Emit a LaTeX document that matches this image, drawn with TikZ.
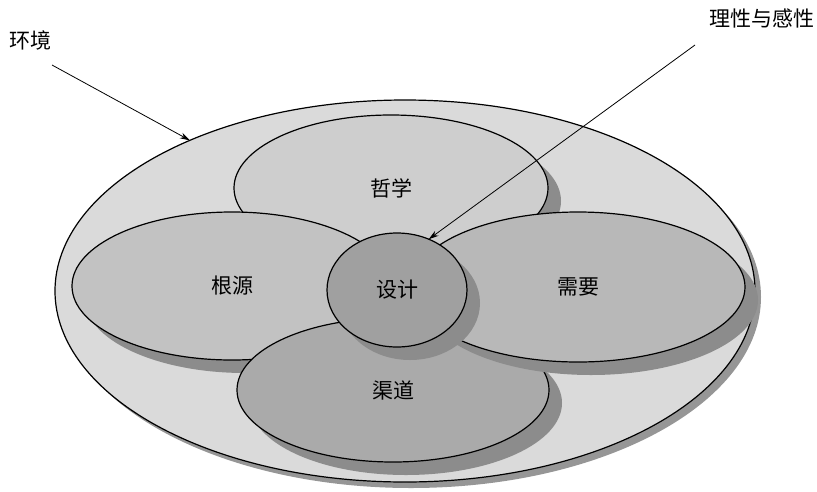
\documentclass[tikz,border=0pt]{standalone}
\usepackage{fontspec}
\newfontfamily\cjk{Noto Sans CJK SC}
\usetikzlibrary{shapes.geometric,shadows,arrows.meta}
\definecolor{outerfill}{RGB}{218,218,218}
\definecolor{zhexuefill}{RGB}{206,206,206}
\definecolor{genyuanfill}{RGB}{194,194,194}
\definecolor{xuyaofill}{RGB}{184,184,184}
\definecolor{qudaofill}{RGB}{170,170,170}
\definecolor{shejifill}{RGB}{160,160,160}
\definecolor{shadowc}{RGB}{140,140,140}
\definecolor{outershadowc}{RGB}{150,150,150}
\tikzset{
  petal/.style={ellipse, draw=black, line width=1.2pt, inner sep=0pt, outer sep=0pt,
    font=\cjk\fontsize{21}{24}\selectfont,
    drop shadow={shadow xshift=13pt, shadow yshift=-13pt, fill=shadowc, opacity=1}},
  envbox/.style={ellipse, draw=black, line width=1.2pt, inner sep=0pt, outer sep=0pt, fill=outerfill,
    drop shadow={shadow xshift=6pt, shadow yshift=-6pt, fill=outershadowc, opacity=1}},
  labeltext/.style={inner sep=0pt, font=\cjk\fontsize{21}{24}\selectfont},
  pointer/.style={line width=0.8pt, -{Stealth[length=10pt,width=6pt]}}
}
\begin{document}
\begin{tikzpicture}[x=1pt,y=-1pt]
\useasboundingbox (0,0) rectangle (817,491);
\node (env) [envbox, minimum width=700pt, minimum height=382pt] at (405,291) {};
\node (zhexue) [petal, fill=zhexuefill, minimum width=314pt, minimum height=146pt] at (391,188) {哲学};
\node (genyuan) [petal, fill=genyuanfill, minimum width=320pt, minimum height=148pt] at (232,286) {根源};
\node (qudao) [petal, fill=qudaofill, minimum width=312pt, minimum height=144pt] at (393,390) {渠道};
\node (xuyao) [petal, fill=xuyaofill, minimum width=334pt, minimum height=150pt] at (578,287) {需要};
\node (sheji) [petal, fill=shejifill, minimum width=140pt, minimum height=114pt] at (397,290) {设计};
\node (huanjing) [labeltext, anchor=west] at (9,40) {环境};
\node (lixing) [labeltext, anchor=east] at (815,18) {理性与感性};
\coordinate (p1) at (52,65);
\coordinate (p2) at (695,45);
\draw[pointer] (p1) -- (env.145.8);
\draw[pointer] (p2) -- (sheji.58);
\end{tikzpicture}
\end{document}
